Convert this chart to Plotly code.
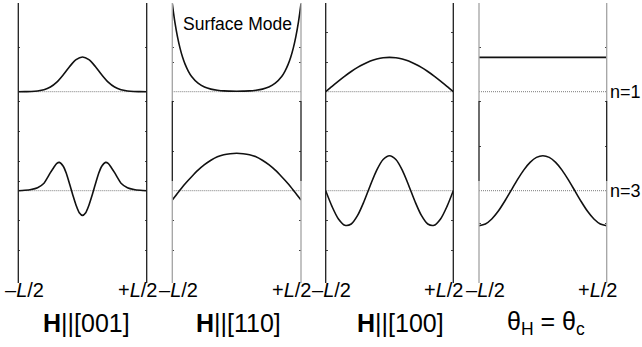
import plotly.graph_objects as go

W, H = 642, 347
FONT = "Liberation Sans, Arial, sans-serif"

# Position across the sample, in units of L
x_std = [-0.5, -0.45, -0.4, -0.35, -0.3, -0.25, -0.2, -0.15, -0.1, -0.05, 0.0,
         0.05, 0.1, 0.15, 0.2, 0.25, 0.3, 0.35, 0.4, 0.45, 0.5]

# Baselines of the two modes (amplitude units)
base_n1 = 99.0
base_n3 = 0.0

# H||[001]
p1_n1_x = x_std
p1_n1_y = [0, 0.1, 0.2, 0.7, 1.9, 4.7, 9.6, 16.9, 25.2, 32.0, 34.7,
           32.0, 25.2, 16.9, 9.6, 4.7, 1.9, 0.7, 0.2, 0.1, 0]
p1_n3_x = [-0.5, -0.45, -0.4, -0.35, -0.3, -0.275, -0.25, -0.225, -0.2, -0.18,
           -0.15, -0.125, -0.1, -0.075, -0.05, -0.025, 0.0,
           0.025, 0.05, 0.075, 0.1, 0.125, 0.15, 0.18, 0.2, 0.225, 0.25,
           0.275, 0.3, 0.35, 0.4, 0.45, 0.5]
p1_n3_y = [0, 0.4, 1.2, 3.0, 7.5, 12.5, 18.0, 23.0, 27.3, 28.3,
           24.5, 17.0, 6.5, -4.5, -14.5, -22.0, -24.7,
           -22.0, -14.5, -4.5, 6.5, 17.0, 24.5, 28.3, 27.3, 23.0, 18.0,
           12.5, 7.5, 3.0, 1.2, 0.4, 0]

# H||[110] (surface mode)
p2_n1_x = [-0.5, -0.49, -0.48, -0.46, -0.44, -0.42, -0.4, -0.375, -0.35, -0.3,
           -0.25, -0.2, -0.15, -0.1, -0.05, 0.0,
           0.05, 0.1, 0.15, 0.2, 0.25, 0.3, 0.35, 0.375, 0.4, 0.42, 0.44,
           0.46, 0.48, 0.49, 0.5]
p2_n1_y = [88.0, 78.3, 69.6, 55.1, 43.6, 34.5, 27.3, 20.4, 15.2, 8.5,
           4.7, 2.6, 1.5, 0.8, 0.6, 0.5,
           0.6, 0.8, 1.5, 2.6, 4.7, 8.5, 15.2, 20.4, 27.3, 34.5, 43.6,
           55.1, 69.6, 78.3, 88.0]
p2_n3_x = x_std
p2_n3_y = [-9.3, -1.0, 7.0, 14.0, 20.5, 26.0, 30.5, 34.0, 36.0, 37.0, 37.4,
           37.0, 36.0, 34.0, 30.5, 26.0, 20.5, 14.0, 7.0, -1.0, -9.3]

# H||[100]
p3_n1_x = x_std
p3_n1_y = [0, 5.4, 10.6, 15.6, 20.2, 24.3, 27.7, 30.6, 32.6, 33.9, 34.3,
           33.9, 32.6, 30.6, 27.7, 24.3, 20.2, 15.6, 10.6, 5.4, 0]
p3_n3_x = x_std
p3_n3_y = [0, -15.9, -28.3, -34.6, -33.3, -24.7, -10.8, 5.5, 20.6, 31.2, 35.0,
           31.2, 20.6, 5.5, -10.8, -24.7, -33.3, -34.6, -28.3, -15.9, 0]

# theta_H = theta_c
p4_n1_x = [-0.5, 0.5]
p4_n1_y = [34.3, 34.3]
p4_n3_x = x_std
p4_n3_y = [-35.0, -33.3, -28.3, -20.6, -10.8, 0, 10.8, 20.6, 28.3, 33.3, 35.0,
           33.3, 28.3, 20.6, 10.8, 0, -10.8, -20.6, -28.3, -33.3, -35.0]

panel_titles = ["<b>H</b>||[001]", "<b>H</b>||[110]", "<b>H</b>||[100]",
                "θ<sub>H</sub> = θ<sub>c</sub>"]
edge_left = "–<i>L</i>/2"
edge_right = "+<i>L</i>/2"

panels = [
    (p1_n1_x, p1_n1_y, p1_n3_x, p1_n3_y),
    (p2_n1_x, p2_n1_y, p2_n3_x, p2_n3_y),
    (p3_n1_x, p3_n1_y, p3_n3_x, p3_n3_y),
    (p4_n1_x, p4_n1_y, p4_n3_x, p4_n3_y),
]

# Layout geometry (pixels)
M_T, M_B = 3, 64
PLOT_H = H - M_T - M_B
Y_RANGE = [-92.3, 187.7]
panel_px = [(18.3, 146.7), (172.3, 301.0), (325.7, 453.3), (479.0, 606.7)]
title_px = [86.7, 238.0, 400.5, 545.5]
tick_vals = [
    [143, 89.7, 59, 29, 9.7, -29.3, -59.3],
    [143, 128.4, 89.7, 39, -29.3, -59.3],
    [158.4, 128.4, 89.7, 59, 39, 29, -29.3, -59.3],
    [143, 89.7, 44, -32.3],
]
DARK = "#1e1e1e"
GREY = "#a3a3a3"
frame_segments = [
    [(Y_RANGE[0], Y_RANGE[1], DARK)],
    [(89.7, Y_RANGE[1], GREY), (9.7, 89.7, DARK), (Y_RANGE[0], 9.7, GREY)],
    [(Y_RANGE[0], Y_RANGE[1], DARK)],
    [(89.7, Y_RANGE[1], GREY), (9.7, 89.7, DARK), (Y_RANGE[0], 9.7, GREY)],
]


def ypaper(v):
    return (v - Y_RANGE[0]) / (Y_RANGE[1] - Y_RANGE[0])


def ypx(py):
    return (H - M_B - py) / PLOT_H


fig = go.Figure()
layout = dict(
    width=W, height=H,
    margin=dict(l=0, r=0, t=M_T, b=M_B),
    paper_bgcolor="white", plot_bgcolor="white",
    showlegend=False,
    font=dict(family=FONT, color="black"),
)
shapes, annotations = [], []

for i, (xa1, ya1, xa3, ya3) in enumerate(panels):
    n = "" if i == 0 else str(i + 1)
    xref, yref = "x" + n, "y" + n
    x0p, x1p = panel_px[i]
    dom = [x0p / W, x1p / W]

    for base in (base_n1, base_n3):
        fig.add_trace(go.Scatter(
            x=[-0.5, 0.5], y=[base, base], xaxis=xref, yaxis=yref,
            mode="lines", line=dict(color="#7a7a7a", width=1, dash="1px,1px"),
            hoverinfo="skip"))
    fig.add_trace(go.Scatter(
        x=xa1, y=[base_n1 + v for v in ya1], xaxis=xref, yaxis=yref,
        mode="lines", line=dict(color="#111", width=1.6, shape="spline",
                                smoothing=0.8)))
    fig.add_trace(go.Scatter(
        x=xa3, y=[base_n3 + v for v in ya3], xaxis=xref, yaxis=yref,
        mode="lines", line=dict(color="#111", width=1.6, shape="spline",
                                smoothing=0.8)))

    layout["xaxis" + n] = dict(domain=dom, range=[-0.5, 0.5], visible=False,
                               anchor=yref)
    layout["yaxis" + n] = dict(
        domain=[0, 1], range=Y_RANGE, anchor=xref, showgrid=False,
        zeroline=False, showline=False, showticklabels=False,
        ticks="inside", ticklen=2, tickwidth=1, tickcolor="#444",
        tickvals=tick_vals[i], mirror="ticks")

    # frame lines at the two faces of the sample
    for xp in (dom[0], dom[1]):
        for lo, hi, col in frame_segments[i]:
            shapes.append(dict(type="line", xref="paper", yref="paper",
                               x0=xp, x1=xp, y0=ypaper(lo), y1=ypaper(hi),
                               line=dict(color=col, width=1.3)))

    annotations.append(dict(text=edge_left, x=(x0p + 6) / W, y=ypx(290),
                            xref="paper", yref="paper", showarrow=False,
                            xanchor="center", yanchor="middle",
                            font=dict(size=20, family=FONT)))
    annotations.append(dict(text=edge_right, x=(x1p - 9) / W, y=ypx(290),
                            xref="paper", yref="paper", showarrow=False,
                            xanchor="center", yanchor="middle",
                            font=dict(size=20, family=FONT)))
    annotations.append(dict(text=panel_titles[i], x=title_px[i] / W,
                            y=ypx(323), xref="paper", yref="paper",
                            showarrow=False, xanchor="center",
                            yanchor="middle", font=dict(size=25, family=FONT)))

annotations.append(dict(text="Surface Mode", x=237.5 / W, y=ypx(24),
                        xref="paper", yref="paper", showarrow=False,
                        xanchor="center", yanchor="middle",
                        font=dict(size=17.5, family=FONT)))
annotations.append(dict(text="n=1", x=608 / W, y=ypx(91.7), xref="paper",
                        yref="paper", showarrow=False, xanchor="left",
                        yanchor="middle", font=dict(size=18, family=FONT)))
annotations.append(dict(text="n=3", x=608 / W, y=ypx(190.7), xref="paper",
                        yref="paper", showarrow=False, xanchor="left",
                        yanchor="middle", font=dict(size=18, family=FONT)))

layout["shapes"] = shapes
layout["annotations"] = annotations
fig.update_layout(**layout)
fig.write_html("out.html")
